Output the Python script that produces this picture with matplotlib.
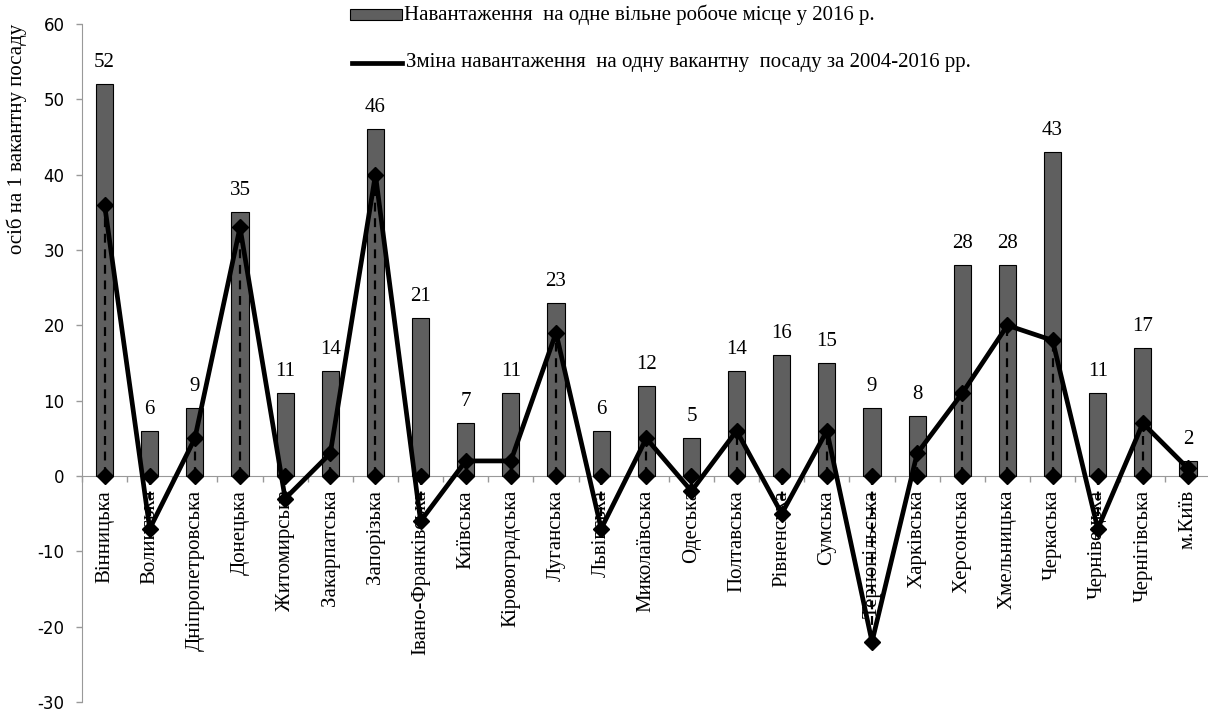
import matplotlib
matplotlib.use("Agg")
import matplotlib.pyplot as plt
from matplotlib.patches import Rectangle
from matplotlib.lines import Line2D
import numpy as np

plt.rcParams["axes.unicode_minus"] = False

regions = ["Вінницька", "Волинська", "Дніпропетровська", "Донецька", "Житомирська",
           "Закарпатська", "Запорізька", "Івано-Франківська", "Київська", "Кіровоградська",
           "Луганська", "Львівська", "Миколаївська", "Одеська", "Полтавська",
           "Рівненська", "Сумська", "Тернопільська", "Харківська", "Херсонська",
           "Хмельницька", "Черкаська", "Чернівецька", "Чернігівська", "м.Київ"]
load_2016 = [52, 6, 9, 35, 11, 14, 46, 21, 7, 11, 23, 6, 12, 5, 14, 16, 15, 9, 8, 28, 28, 43, 11, 17, 2]
change_2004_2016 = [36, -7, 5, 33, -3, 3, 40, -6, 2, 2, 19, -7, 5, -2, 6, -5, 6, -22, 3, 11, 20, 18, -7, 7, 1]

legend_bar = "Навантаження  на одне вільне робоче місце у 2016 р."
legend_line = "Зміна навантаження  на одну вакантну  посаду за 2004-2016 рр."
ylabel = "осіб на 1 вакантну посаду"

SERIF = ["Liberation Serif", "DejaVu Serif"]
W, H = 1208, 716
fig = plt.figure(figsize=(W / 100, H / 100), dpi=100)
ax = fig.add_axes([82 / W, 14 / H, (1210.6 - 82) / W, (702 - 24) / H])

for s in ["top", "right"]:
    ax.spines[s].set_visible(False)
ax.spines["bottom"].set_position(("data", 0))
ax.spines["bottom"].set_color("#999999")
ax.spines["left"].set_color("#999999")
ax.spines["bottom"].set_zorder(1)

x = np.arange(len(regions))
ax.bar(x, load_2016, width=0.38, color="#5f5f5f", edgecolor="black", linewidth=0.8, zorder=2)

# drop lines (dashed) from axis to line values
for xi, v in zip(x, change_2004_2016):
    ax.plot([xi, xi], [0, v], color="black", linestyle=(0, (4, 3)), linewidth=1.6, zorder=3)

# zero markers
ax.plot(x, np.zeros(len(x)), linestyle="none", marker="D", markersize=8.5, color="black", zorder=4)
ax.plot(x, change_2004_2016, color="black", linewidth=3.4, marker="D", markersize=8.5, zorder=5)

for xi, v in zip(x, load_2016):
    ax.text(xi, v + 2.85, str(v), ha="center", va="center", fontsize=15, family=SERIF, zorder=6)

ax.set_xlim(-0.5, len(regions) - 0.5)
ax.set_ylim(-30, 60)
ax.set_yticks(range(-30, 61, 10))
ax.tick_params(axis="y", length=4.5, width=1, color="#999999", pad=8, labelsize=12)

ax.set_xticks(np.arange(-0.5, len(regions), 1), minor=True)
ax.set_xticks(x)
ax.set_xticklabels(regions, rotation=90, fontsize=15, family=SERIF, va="top", ha="center")
ax.tick_params(axis="x", which="major", length=0, pad=10)
ax.tick_params(axis="x", which="minor", length=4.5, width=1, color="#999999", direction="out")

fig.text(17 / W, 1 - 139 / H, ylabel, rotation=90, ha="center", va="center",
         fontsize=15, family=SERIF)

# legend (manual)
fig.patches.append(Rectangle((350 / W, 1 - 20 / H), 52 / W, 11 / H, transform=fig.transFigure,
                             facecolor="#5f5f5f", edgecolor="black", linewidth=0.8))
fig.text(404 / W, 1 - 15 / H, legend_bar, ha="left", va="center", fontsize=15, family=SERIF)
fig.lines.append(Line2D([352 / W, 402 / W], [1 - 63 / H, 1 - 63 / H], transform=fig.transFigure,
                        color="black", linewidth=3.4))
fig.text(406 / W, 1 - 63 / H, legend_line, ha="left", va="center", fontsize=15, family=SERIF)

fig.savefig("out.png", dpi=100)
